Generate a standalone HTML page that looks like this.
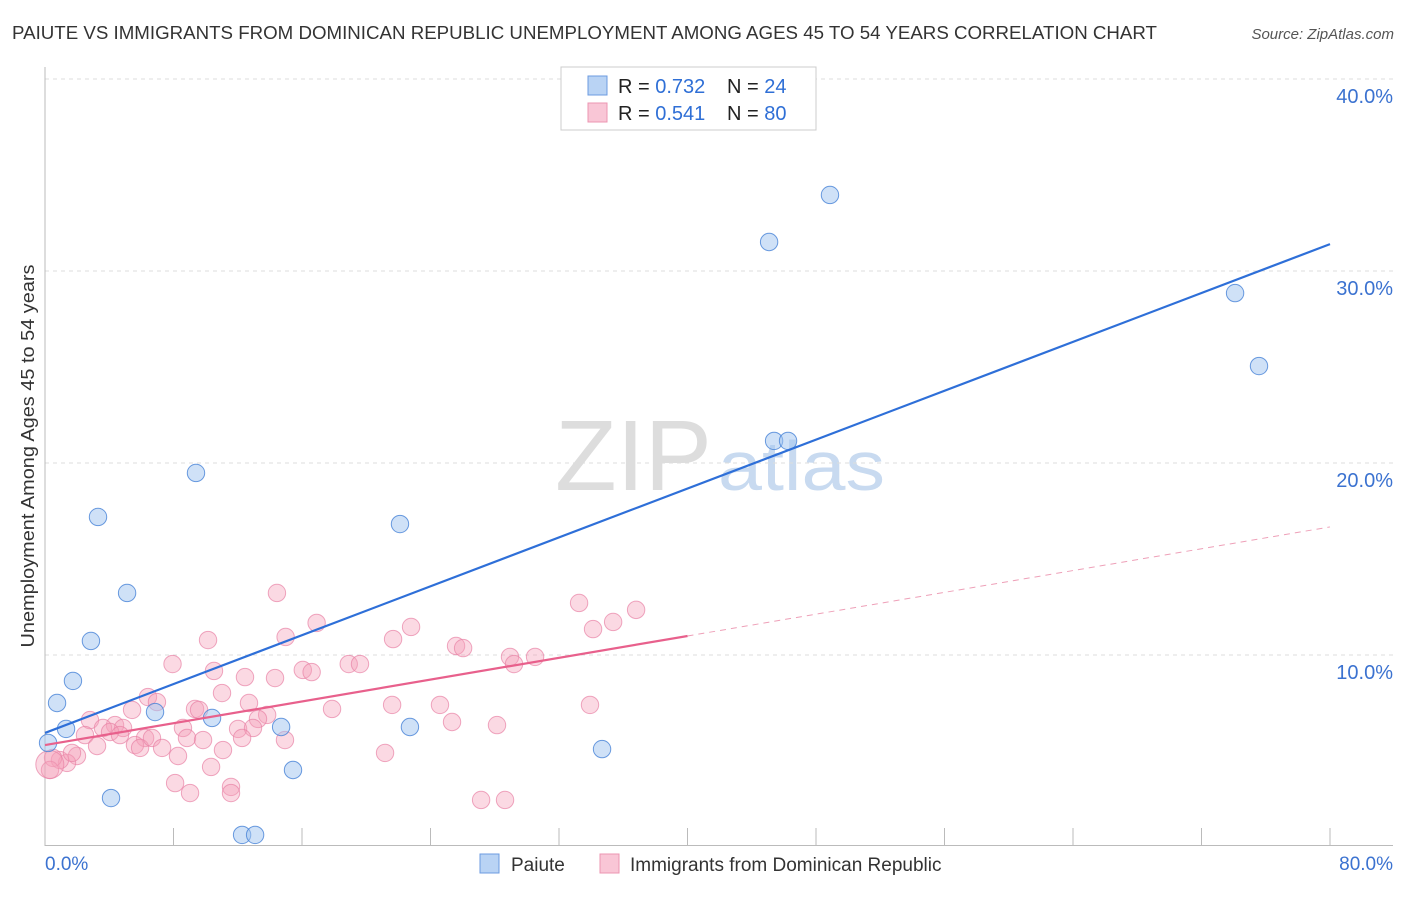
<!DOCTYPE html>
<html><head><meta charset="utf-8"><style>
body{margin:0;background:#fff;font-family:"Liberation Sans",sans-serif}
svg text{font-family:"Liberation Sans",sans-serif}
</style></head><body>
<svg width="1406" height="892" viewBox="0 0 1406 892">
<text x="12" y="39" font-size="18" fill="#333" textLength="1145" lengthAdjust="spacingAndGlyphs">PAIUTE VS IMMIGRANTS FROM DOMINICAN REPUBLIC UNEMPLOYMENT AMONG AGES 45 TO 54 YEARS CORRELATION CHART</text>
<text x="1394" y="39" font-size="15" fill="#555" text-anchor="end" font-style="italic">Source: ZipAtlas.com</text>
<text x="555" y="490" font-size="100" fill="#ddd" textLength="157" lengthAdjust="spacingAndGlyphs" font-family="Liberation Serif">ZIP</text>
<text x="718" y="490" font-size="70" fill="#c8daf0" textLength="167" lengthAdjust="spacingAndGlyphs">atlas</text>
<g id="grid"></g>
<line x1="45" y1="67" x2="45" y2="846" stroke="#bbb"/>
<line x1="45" y1="845.5" x2="1393" y2="845.5" stroke="#bbb"/>
<g id="xticks"></g>
<text transform="translate(34,456) rotate(-90)" font-size="18" fill="#333" text-anchor="middle" textLength="383" lengthAdjust="spacingAndGlyphs">Unemployment Among Ages 45 to 54 years</text>
<text x="45" y="870" font-size="19" fill="#3b72d0">0.0%</text>
<text x="1393" y="870" font-size="19" fill="#3b72d0" text-anchor="end">80.0%</text>
<g id="pink"></g><g id="blue"></g><g id="lines"></g>
<g>
<rect x="561" y="67" width="255" height="63" fill="#fff" stroke="#ccc"/>
<rect x="588" y="76" width="19" height="19" fill="#b9d3f4" stroke="#6c9be0"/>
<rect x="588" y="103" width="19" height="19" fill="#f9c6d6" stroke="#ec95b2"/>
<text x="618" y="93" font-size="20" fill="#222">R = <tspan fill="#2f6fd6">0.732</tspan></text>
<text x="727" y="93" font-size="20" fill="#222">N = <tspan fill="#2f6fd6">24</tspan></text>
<text x="618" y="120" font-size="20" fill="#222">R = <tspan fill="#2f6fd6">0.541</tspan></text>
<text x="727" y="120" font-size="20" fill="#222">N = <tspan fill="#2f6fd6">80</tspan></text>
</g>
<g>
<rect x="480" y="854" width="19" height="19" fill="#b9d3f4" stroke="#6c9be0"/>
<text x="511" y="871" font-size="19" fill="#333">Paiute</text>
<rect x="600" y="854" width="19" height="19" fill="#f9c6d6" stroke="#ec95b2"/>
<text x="630" y="871" font-size="19" fill="#333">Immigrants from Dominican Republic</text>
</g>
</svg>
<script>
const yTicks=[10,20,30,40];
const yTickLabels=["10.0%","20.0%","30.0%","40.0%"];
const xTicks=[0,8,16,24,32,40,48,56,64,72,80];
const blueX=[0.75,1.31,1.74,2.86,3.30,4.11,5.11,6.85,9.40,10.40,12.27,13.08,14.70,15.44,22.10,22.72,34.68,45.08,45.39,46.26,48.87,74.09,75.58,0.19];
const blueY=[7.5,6.15,8.65,10.73,17.19,2.55,13.23,7.03,19.48,6.72,0.63,0.63,6.25,4.01,16.82,6.25,5.10,31.51,21.15,21.15,33.96,28.85,25.05,5.42];
const pinkX=[14.44,10.15,14.98,16.91,7.94,10.52,12.45,14.32,16.05,16.60,18.91,11.02,12.70,6.41,6.97,5.42,9.34,9.59,2.80,17.87,13.83,13.26,8.59,12.02,4.36,3.61,4.86,4.05,4.67,2.49,6.23,5.60,8.84,9.84,12.95,12.27,3.24,5.92,6.66,7.29,8.28,11.08,14.94,1.99,1.37,0.93,0.50,0.31,10.34,8.10,9.03,11.58,11.58,1.68,21.67,22.79,25.59,26.03,28.95,29.20,30.51,33.25,34.12,35.37,36.80,19.61,21.61,24.59,25.34,28.14,33.93,21.17,27.15,28.64];
const pinkY=[13.23,10.78,10.94,11.67,9.53,9.17,8.85,8.80,9.22,9.11,9.53,8.02,7.50,7.81,7.55,7.14,7.19,7.14,6.61,7.19,6.88,6.67,6.20,6.15,6.35,6.20,6.20,5.99,5.83,5.83,5.68,5.31,5.68,5.57,6.20,5.68,5.26,5.16,5.68,5.16,4.74,5.05,5.57,4.74,4.38,4.53,4.64,4.01,4.17,3.33,2.81,3.13,2.81,4.90,10.83,11.46,10.47,10.36,9.90,9.53,9.90,12.71,11.35,11.72,12.35,9.53,7.40,7.40,6.51,6.35,7.40,4.90,2.45,2.45];
const blueTrend=[5.94,31.4];
const pinkTrend=[5.31,16.67];
const pinkSolidEnd=40;
const NS="http://www.w3.org/2000/svg";
const sx=v=>45+v/80*1285, sy=v=>847-v*19.2;
function mk(t,a,p){const e=document.createElementNS(NS,t);for(const k in a)e.setAttribute(k,a[k]);p.appendChild(e);return e;}
const grid=document.getElementById('grid');
yTicks.forEach((t,i)=>{
 const l=mk('line',{x1:45,x2:1393,y1:sy(t),y2:sy(t),stroke:'#ddd','stroke-dasharray':'4,4'},grid);
 
 
 const tx=mk('text',{x:1393,y:sy(t)+24,'font-size':20,fill:'#3b72d0','text-anchor':'end'},grid);
 tx.textContent=yTickLabels[i];
 
 
});
const xt=document.getElementById('xticks');
xTicks.forEach(t=>{
 const l=mk('line',{x1:sx(t),x2:sx(t),y1:828,y2:845,stroke:'#bbb'},xt);
 
 
});
const pg=document.getElementById('pink');
pinkX.forEach((x,i)=>{
 const c=mk('circle',{cx:sx(x),cy:sy(pinkY[i]),r:8.7,fill:'rgba(245,160,185,0.4)',stroke:'rgba(232,130,165,0.7)','stroke-width':1},pg);
 
 
});
const big=mk('circle',{cx:sx(0.3),cy:sy(4.3),r:14,fill:'rgba(245,160,185,0.4)',stroke:'rgba(232,130,165,0.7)'},pg);


const bg=document.getElementById('blue');
blueX.forEach((x,i)=>{
 const c=mk('circle',{cx:sx(x),cy:sy(blueY[i]),r:8.7,fill:'rgba(160,195,240,0.5)',stroke:'rgba(70,130,215,0.8)','stroke-width':1},bg);
 
 
});
const lg=document.getElementById('lines');
const pAt=x=>pinkTrend[0]+(pinkTrend[1]-pinkTrend[0])*x/80;
let l1=mk('line',{x1:sx(0),y1:sy(blueTrend[0]),x2:sx(80),y2:sy(blueTrend[1]),stroke:'#2e6fd8','stroke-width':2.2},lg);


let l2=mk('line',{x1:sx(0),y1:sy(pAt(0)),x2:sx(pinkSolidEnd),y2:sy(pAt(pinkSolidEnd)),stroke:'#e8608c','stroke-width':2.2},lg);


let l3=mk('line',{x1:sx(pinkSolidEnd),y1:sy(pAt(pinkSolidEnd)),x2:sx(80),y2:sy(pAt(80)),stroke:'#eea0b8','stroke-width':1,'stroke-dasharray':'6,5'},lg);


</script>
</body></html>
